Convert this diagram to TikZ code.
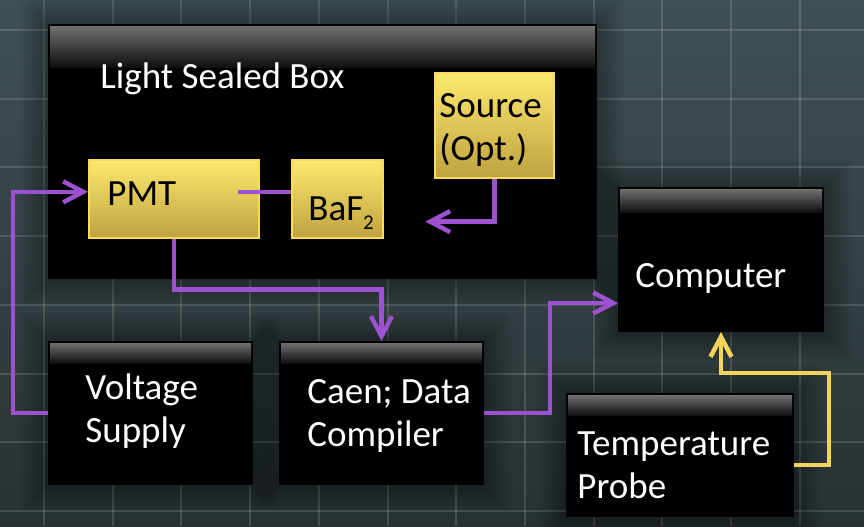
\documentclass[tikz,border=0pt]{standalone}
\usepackage{fontspec}
\setmainfont{Carlito}
\usetikzlibrary{arrows.meta}
\definecolor{bgtop}{HTML}{3F5155}
\definecolor{bgbot}{HTML}{283033}
\definecolor{hdrtop}{HTML}{707070}
\definecolor{hdrbot}{HTML}{101010}
\definecolor{goldtop}{HTML}{FDE96E}
\definecolor{goldbot}{HTML}{BFA240}
\definecolor{goldedge}{HTML}{F7DA5E}
\definecolor{wirepurple}{HTML}{9B51D0}
\definecolor{wireyellow}{HTML}{F2D35B}

\begin{document}
\begin{tikzpicture}[x=0.5pt, y=-0.5pt,
    >={Straight Barb[length=10pt,width=10.5pt]},
    every node/.style={font=\fontsize{18.5}{21.5}\selectfont},
    gridline/.style={white, opacity=0.14, line width=1pt},
    panel/.style={draw=black, line width=1pt, fill=black, inner sep=0pt, anchor=north west},
    shadowband/.style={black, opacity=0.035, line width=#1},
    hdr/.style={top color=hdrtop, bottom color=hdrbot},
    goldbox/.style={draw=goldedge, line width=0.8pt, top color=goldtop, bottom color=goldbot,
      inner sep=0pt, anchor=north west},
    wtxt/.style={text=white, anchor=base west, inner sep=0pt, align=left},
    btxt/.style={text=black, anchor=base west, inner sep=0pt, align=left},
    pwire/.style={draw=wirepurple, line width=2.25pt},
    ywire/.style={draw=wireyellow, line width=2.25pt}]
  %--- Background and grid
  \useasboundingbox (0,0) rectangle (864,526);
  \shade[top color=bgtop, bottom color=bgbot] (0,0) rectangle (864,526);
  \foreach \gx in {0,...,12}
    \draw[gridline] ({44+68.7*\gx},0) -- ({44+68.7*\gx},526);
  \foreach \gy in {0,...,7}
    \draw[gridline] (0,{30+68.7*\gy}) -- (864,{30+68.7*\gy});
  %--- Black panels
  \node[panel, minimum width=273.5pt, minimum height=126.5pt] (lsb) at (48,24) {};
  \node[panel, minimum width=102pt, minimum height=71.5pt] (comp) at (618,187) {};
  \node[panel, minimum width=101.5pt, minimum height=71pt] (vs) at (48,341) {};
  \node[panel, minimum width=101.5pt, minimum height=71pt] (caen) at (279,341) {};
  \node[panel, minimum width=113pt, minimum height=61pt] (temp) at (566,393) {};
  %--- Soft shadows and headers
  \foreach \bx in {lsb, comp, vs, caen, temp}
    \foreach \w in {3,6,...,27}
      \draw[shadowband=\w pt] (\bx.north west) rectangle (\bx.south east);
  \foreach \bx/\hh in {lsb/21.5pt, comp/12.5pt, vs/11pt, caen/11pt, temp/11pt}
    \shade[hdr] ([shift={(1pt,-1pt)}]\bx.north west) rectangle ([shift={(-1pt,-\hh)}]\bx.north east);
  %--- Gold boxes
  \node[goldbox, minimum width=85pt, minimum height=39pt] (pmt) at (88,159) {};
  \node[goldbox, minimum width=45.5pt, minimum height=39pt] (baf) at (291,159) {};
  \node[goldbox, minimum width=59.5pt, minimum height=52.5pt] (src) at (434,72) {};
  %--- Wires
  \draw[pwire] ([xshift=-11pt,yshift=3.5pt]pmt.east) -- ([yshift=3.5pt]baf.west);
  \draw[pwire, ->] (vs.west) -- ++(-35,0) |- ([yshift=3.5pt]pmt.west);
  \draw[pwire, ->] (src.south) |- ++(-69,43);
  \draw[pwire, ->] (pmt.south) -- ++(0,51) -| (caen.north);
  \draw[pwire, ->] (caen.east) -- ++(66,0) |- ([yshift=-21.75pt]comp.west);
  \draw[ywire, ->] ([yshift=-5pt]temp.east) -| ++(35,-92) -| (comp.south);
  %--- Labels (base = last line)
  \node[wtxt] (lsbtxt) at (100,88) {Light Sealed Box};
  \node[btxt] (pmttxt) at (107,205) {PMT};
  \node[btxt] (baftxt) at (308,220) {BaF\raisebox{-4.5pt}{\fontsize{10.5}{10}\selectfont 2}};
  \node[btxt] (srctxt) at (439,160) {Source\\(Opt.)};
  \node[wtxt] (comptxt) at (635,287) {Computer};
  \node[wtxt] (vstxt) at (85,442) {Voltage\\Supply};
  \node[wtxt] (caentxt) at (307,446) {Caen; Data\\Compiler};
  \node[wtxt] (temptxt) at (577,498) {Temperature\\Probe};
\end{tikzpicture}
\end{document}
